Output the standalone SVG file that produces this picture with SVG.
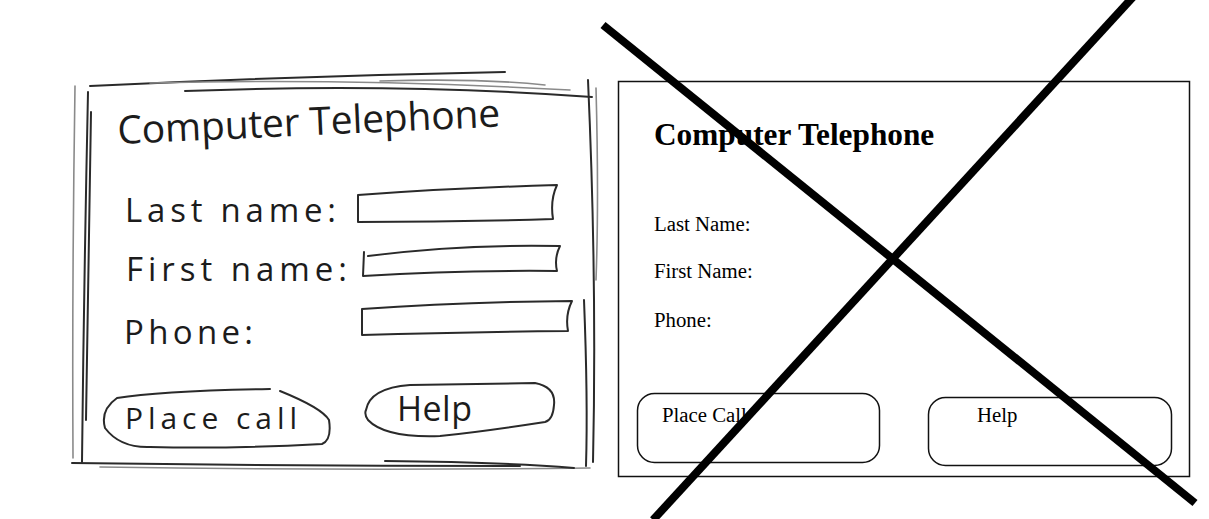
<svg xmlns="http://www.w3.org/2000/svg" width="1209" height="519" viewBox="0 0 1209 519">
<style>
.sk{fill:none;stroke:#2a2a2a;stroke-width:2;stroke-linecap:round;stroke-linejoin:round}
.skl{fill:none;stroke:#8a8a8a;stroke-width:1.6;stroke-linecap:round}
.hw{font-family:"Open Sans","DejaVu Sans",sans-serif;fill:#1c1c1c}
.frm{fill:none;stroke:#111;stroke-width:1.5}
.srf{font-family:"Liberation Serif","Times New Roman",serif;fill:#000}
.x{stroke:#000;stroke-width:8;stroke-linecap:butt}
</style>
<rect width="1209" height="519" fill="#fff"/>

<g id="sketch">
  <g id="sketch-frame">
    <path class="sk" d="M90,86 Q300,76 505,72"/>
    <path class="skl" d="M150,83 Q350,78 570,90"/>
    <path class="sk" d="M185,91 Q400,83 592,97"/>
    <path class="skl" d="M380,81 Q480,78 545,85"/>
    <path class="sk" d="M88,92 Q84,280 82,462"/>
    <path class="skl" d="M75,86 Q72,280 73,458"/>
    <path class="sk" d="M91,112 Q88,300 86,420"/>
    <path class="sk" d="M588,80 Q597,280 593,462"/>
    <path class="skl" d="M596,88 Q599,200 596,280"/>
    <path class="sk" d="M584,300 Q588,400 586,466"/>
    <path class="sk" d="M72,463 Q300,466 520,466"/>
    <path class="skl" d="M100,467 Q350,471 590,468"/>
    <path class="sk" d="M385,461 Q500,462 574,468"/>
  </g>
  <g id="sketch-title">
    <text class="hw" x="118" y="144" font-size="39" textLength="383" lengthAdjust="spacing" transform="rotate(-2.6 118 144)">Computer Telephone</text>
  </g>
  <g id="sketch-last">
    <text class="hw" x="125" y="222" font-size="33" textLength="211" lengthAdjust="spacing">Last name:</text>
    <path class="sk" d="M358,195 Q455,188 557,185 Q550,200 553,219 Q455,222 358,222 Z"/>
  </g>
  <g id="sketch-first">
    <text class="hw" x="126" y="281" font-size="33" textLength="221" lengthAdjust="spacing">First name:</text>
    <path class="sk" d="M368,256 Q460,244 560,246 Q554,258 557,271 Q460,270 363,276 L364,252"/>
  </g>
  <g id="sketch-phone">
    <text class="hw" x="124" y="344" font-size="33" textLength="129" lengthAdjust="spacing">Phone:</text>
    <path class="sk" d="M362,309 Q460,302 572,301 Q565,315 568,331 Q460,332 362,335 Z"/>
  </g>
  <g id="sketch-place-call">
    <path class="sk" d="M270,389 Q160,391 117,398 Q100,410 105,428 Q120,448 150,447 Q230,449 322,444 Q332,440 329,420 Q322,408 280,391"/>
    <text class="hw" x="125" y="429" font-size="30" textLength="172" lengthAdjust="spacing">Place call</text>
  </g>
  <g id="sketch-help">
    <path class="sk" d="M366,410 Q370,388 410,385 L535,383 Q556,387 554,405 Q553,420 545,422 Q480,432 440,436 Q385,438 368,420 Q364,414 366,410 Z"/>
    <text class="hw" x="397" y="421" font-size="34" textLength="75" lengthAdjust="spacing">Help</text>
  </g>
</g>

<g id="mockup">
  <rect id="mockup-frame" class="frm" x="618.5" y="81.5" width="571" height="395"/>
  <text id="mockup-title" class="srf" x="654" y="145" font-size="31.3" font-weight="bold">Computer Telephone</text>
  <text id="mockup-last" class="srf" x="654" y="231" font-size="20.8">Last Name:</text>
  <text id="mockup-first" class="srf" x="654" y="278" font-size="20.8">First Name:</text>
  <text id="mockup-phone" class="srf" x="654" y="327" font-size="20.8">Phone:</text>
  <g id="mockup-place-call">
    <rect class="frm" x="637.5" y="393.5" width="242" height="69" rx="17"/>
    <text class="srf" x="662" y="422" font-size="20.8">Place Call</text>
  </g>
  <g id="mockup-help">
    <rect class="frm" x="928.5" y="397.5" width="243" height="68" rx="17"/>
    <text class="srf" x="977" y="422" font-size="20.8">Help</text>
  </g>
</g>

<g id="connectors">
  <line class="x" x1="603" y1="25" x2="1195" y2="503"/>
  <line class="x" x1="1133" y1="-3" x2="653" y2="520"/>
</g>
</svg>
